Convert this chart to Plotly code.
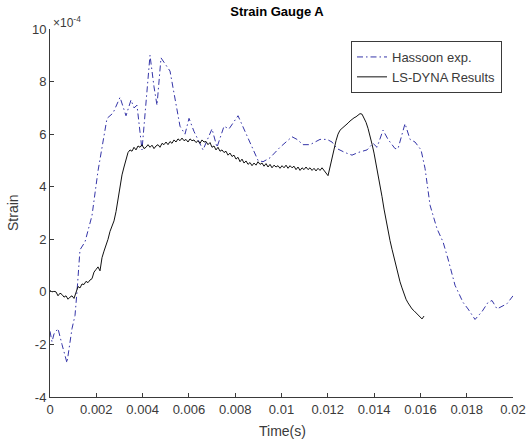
import numpy as np
import plotly.graph_objects as go

# ---- data ----
SCALE = 1e-4  # axis multiplier shown as x10^-4

# Hassoon experiment (time in ms, strain in 1e-4)
hassoon_t_ms = [0.000, 0.086, 0.173, 0.346, 0.518, 0.734, 0.950, 1.080, 1.166, 1.296,
                1.512, 1.642, 1.814, 2.074, 2.462, 2.722, 3.024, 3.283, 3.499, 3.629,
                3.758, 3.974, 4.320, 4.493, 4.622, 4.795, 5.011, 5.184, 5.616, 5.832,
                6.005, 6.221, 6.610, 6.998, 7.214, 7.517, 7.733, 8.122, 8.986, 9.202,
                9.504, 9.936, 10.454, 10.670, 10.930, 11.232, 11.664, 11.966, 12.182, 12.398,
                12.744, 13.046, 13.306, 13.694, 13.954, 14.126, 14.386, 14.602, 14.904, 15.034,
                15.336, 15.552, 15.768, 16.027, 16.200, 16.416, 16.718, 16.978, 17.194, 17.496,
                17.842, 18.058, 18.360, 18.662, 18.922, 19.094, 19.310, 19.742, 20.000]
hassoon_strain = [-1.5, -1.9, -1.6, -1.4, -2.0, -2.7, -1.4, -0.9, 0.0, 1.6,
                  1.9, 2.3, 2.9, 4.6, 6.6, 6.8, 7.4, 6.7, 7.3, 7.0,
                  7.1, 5.4, 9.0, 7.8, 7.1, 8.9, 8.6, 8.4, 6.3, 6.0,
                  6.6, 6.1, 5.4, 6.2, 5.5, 6.3, 6.2, 6.7, 5.0, 4.95,
                  5.1, 5.5, 5.9, 5.8, 5.6, 5.6, 5.8, 5.8, 5.7, 5.45,
                  5.3, 5.2, 5.3, 5.4, 5.65, 5.5, 6.15, 5.8, 5.45, 5.45,
                  6.4, 5.8, 5.7, 5.4, 4.7, 3.3, 2.4, 1.9, 1.25, 0.25,
                  -0.4, -0.65, -1.05, -0.75, -0.4, -0.33, -0.65, -0.45, -0.15]

# LS-DYNA results (uniform output interval, strain in 1e-4)
lsdyna_dt = 8.64e-5  # s
lsdyna_strain = [
    0.05, 0.00, 0.02, 0.00, -0.15, -0.05, -0.10, -0.20, -0.15, -0.28,
    -0.20, -0.15, -0.25, -0.05, 0.20, 0.15, 0.30, 0.28, 0.40, 0.35,
    0.45, 0.50, 0.75, 0.85, 0.95, 0.80, 1.30, 1.55, 1.75, 2.00,
    2.30, 2.50, 2.70, 3.05, 3.55, 4.10, 4.45, 4.75, 5.00, 5.30,
    5.40, 5.35, 5.50, 5.40, 5.55, 5.50, 5.60, 5.45, 5.50, 5.60,
    5.50, 5.58, 5.45, 5.55, 5.60, 5.50, 5.65, 5.60, 5.70, 5.60,
    5.72, 5.65, 5.78, 5.70, 5.82, 5.75, 5.85, 5.75, 5.80, 5.70,
    5.82, 5.75, 5.78, 5.68, 5.75, 5.65, 5.78, 5.70, 5.72, 5.60,
    5.68, 5.50, 5.55, 5.40, 5.50, 5.35, 5.40, 5.30, 5.35, 5.20,
    5.28, 5.15, 5.20, 5.05, 5.12, 4.95, 5.05, 4.90, 4.98, 4.85,
    4.92, 4.80, 4.90, 4.82, 4.95, 4.85, 4.90, 4.78, 4.88, 4.75,
    4.85, 4.72, 4.82, 4.75, 4.80, 4.70, 4.80, 4.72, 4.82, 4.70,
    4.80, 4.72, 4.78, 4.65, 4.75, 4.62, 4.72, 4.65, 4.75, 4.65,
    4.72, 4.62, 4.70, 4.60, 4.70, 4.62, 4.72, 4.62, 4.50, 4.42,
    4.75, 5.10, 5.45, 5.75, 6.00, 6.15, 6.22, 6.28, 6.35, 6.42,
    6.50, 6.58, 6.62, 6.66, 6.72, 6.78, 6.76, 6.62, 6.45, 6.22,
    5.95, 5.62, 5.28, 4.90, 4.50, 4.05, 3.62, 3.15, 2.70, 2.30,
    1.95, 1.62, 1.30, 1.00, 0.68, 0.38, 0.15, -0.08, -0.28, -0.42,
    -0.55, -0.65, -0.72, -0.80, -0.87, -0.93, -1.03, -0.92]

x_ticks = [0, 0.002, 0.004, 0.006, 0.008, 0.01, 0.012, 0.014, 0.016, 0.018, 0.02]
x_tick_labels = ["0", "0.002", "0.004", "0.006", "0.008", "0.01", "0.012",
                 "0.014", "0.016", "0.018", "0.02"]
y_ticks = [-4, -2, 0, 2, 4, 6, 8, 10]
y_tick_labels = ["-4", "-2", "0", "2", "4", "6", "8", "10"]

# ---- figure ----
hx = np.array(hassoon_t_ms) * 1e-3
hy = np.array(hassoon_strain) * SCALE
lx = np.arange(len(lsdyna_strain)) * lsdyna_dt
ly = np.array(lsdyna_strain) * SCALE

FONT = "Liberation Sans, Arial, Helvetica, sans-serif"
AX = "#3a3a3a"

W, H = 529, 443
ML, MR, MT, MB = 50, 16, 29, 46
PW, PH = W - ML - MR, H - MT - MB

fig = go.Figure()
fig.add_trace(go.Scatter(x=hx, y=hy, mode="lines", name="Hassoon exp.",
                         line=dict(color="#3535a8", width=1, dash="6px,3px,1.5px,3px")))
fig.add_trace(go.Scatter(x=lx, y=ly, mode="lines", name="LS-DYNA Results",
                         line=dict(color="#111111", width=1)))

fig.update_layout(
    width=W, height=H,
    margin=dict(l=ML, r=MR, t=MT, b=MB, autoexpand=False),
    paper_bgcolor="white", plot_bgcolor="white",
    font=dict(family=FONT, size=13, color=AX),
    title=dict(text="<b>Strain Gauge A</b>", x=277 / W, xanchor="center",
               y=1 - 11 / H, yanchor="middle", font=dict(size=13, color="black")),
    showlegend=True,
    legend=dict(x=(502 - ML) / PW, xanchor="right", y=(H - MB - 41) / PH, yanchor="top",
                bgcolor="white", bordercolor=AX, borderwidth=1,
                font=dict(size=13, color=AX), tracegroupgap=0,
                itemwidth=30),
    xaxis=dict(range=[0, 0.02], tickvals=x_ticks, ticktext=x_tick_labels,
               showgrid=False, zeroline=False, showline=True, linecolor=AX, linewidth=1,
               ticks="inside", ticklen=4, tickcolor=AX, tickfont=dict(size=13, color=AX),
               automargin=False),
    yaxis=dict(range=[-4 * SCALE, 10 * SCALE], tickvals=[v * SCALE for v in y_ticks],
               ticktext=y_tick_labels,
               showgrid=False, zeroline=False, showline=True, linecolor=AX, linewidth=1,
               ticks="inside", ticklen=4, tickcolor=AX, tickfont=dict(size=13, color=AX),
               automargin=False),
)

# axis titles
fig.add_annotation(text="Time(s)", xref="paper", yref="paper",
                   x=(282 - ML) / PW, y=-(431 - (H - MB)) / PH,
                   xanchor="center", yanchor="middle", showarrow=False,
                   font=dict(size=14, color=AX))
fig.add_annotation(text="Strain", xref="paper", yref="paper",
                   x=-(ML - 13) / PW, y=0.5, textangle=-90,
                   xanchor="center", yanchor="middle", showarrow=False,
                   font=dict(size=14, color=AX))
# exponent label
fig.add_annotation(text="×10<sup>-4</sup>", xref="paper", yref="paper", x=0, y=1,
                   xanchor="left", yanchor="bottom", showarrow=False, xshift=1, yshift=-3,
                   font=dict(size=12, color=AX))

fig.write_html("out.html")
